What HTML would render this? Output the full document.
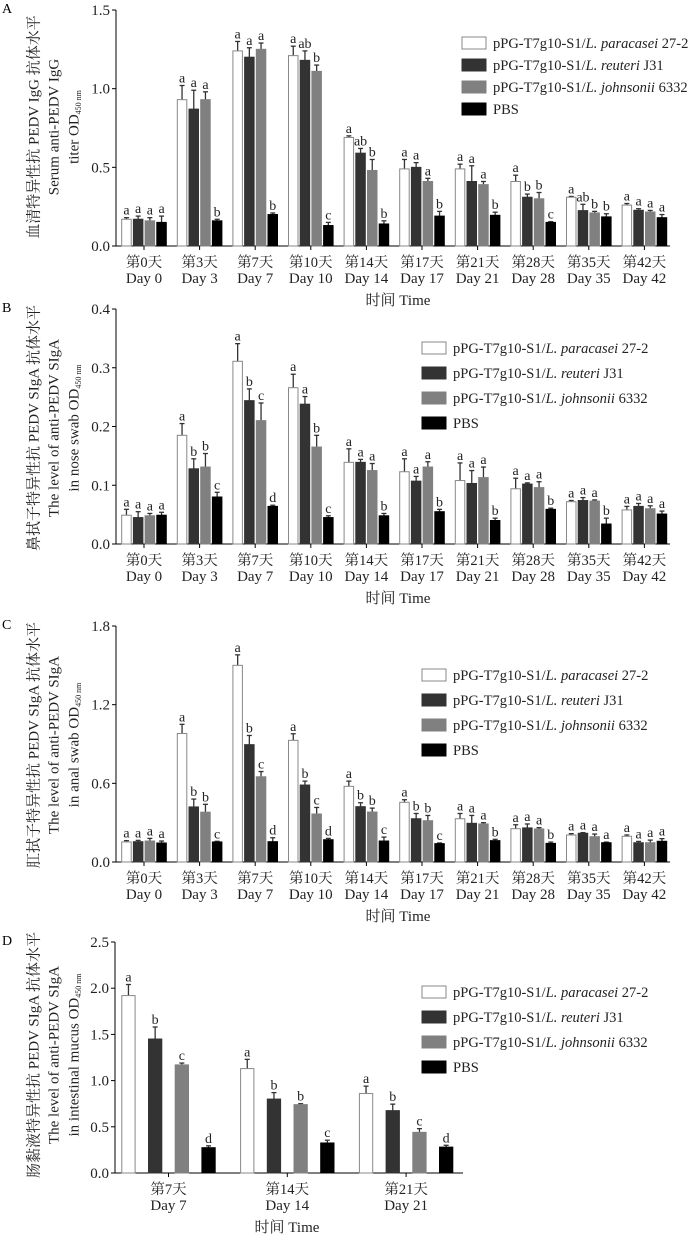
<!DOCTYPE html>
<html><head><meta charset="utf-8"><style>
html,body{margin:0;padding:0;background:#fff;}
svg{display:block;font-family:"Liberation Serif","Noto Serif CJK SC","Noto Sans CJK SC",serif;}
</style></head><body>
<svg id="fig" width="700" height="1236" viewBox="0 0 700 1236" xmlns="http://www.w3.org/2000/svg"></svg>
<script>
// ---- shared categories ----
const cats10Cn = ["第0天","第3天","第7天","第10天","第14天","第17天","第21天","第28天","第35天","第42天"];
const cats10En = ["Day 0","Day 3","Day 7","Day 10","Day 14","Day 17","Day 21","Day 28","Day 35","Day 42"];
const catsDCn = ["第7天","第14天","第21天"];
const catsDEn = ["Day 7","Day 14","Day 21"];
const seriesNames = ["pPG-T7g10-S1/L. paracasei 27-2","pPG-T7g10-S1/L. reuteri J31","pPG-T7g10-S1/L. johnsonii 6332","PBS"];

// ---- Panel A: serum IgG ----
const aParacasei = [0.17,0.93,1.24,1.21,0.69,0.49,0.49,0.41,0.31,0.26];
const aReuteri   = [0.17,0.87,1.20,1.18,0.59,0.50,0.41,0.31,0.225,0.227];
const aJohnsonii = [0.16,0.93,1.25,1.11,0.48,0.41,0.39,0.30,0.21,0.216];
const aPBS       = [0.15,0.16,0.20,0.13,0.14,0.19,0.195,0.15,0.185,0.18];
const aErrP = [0.01,0.09,0.06,0.06,0.01,0.06,0.03,0.04,0.005,0.01];
const aErrR = [0.02,0.12,0.06,0.06,0.03,0.03,0.10,0.02,0.04,0.01];
const aErrJ = [0.02,0.05,0.04,0.04,0.07,0.02,0.02,0.04,0.01,0.01];
const aErrB = [0.04,0.01,0.01,0.02,0.02,0.03,0.02,0.005,0.02,0.02];
const aLetP = ["a","a","a","a","a","a","a","a","a","a"];
const aLetR = ["a","a","a","ab","ab","a","a","b","ab","a"];
const aLetJ = ["a","a","a","b","b","a","a","b","b","a"];
const aLetB = ["a","b","b","c","b","b","b","c","b","a"];
const aTicks = ["0.0","0.5","1.0","1.5"];

// ---- Panel B: nose swab SIgA ----
const bParacasei = [0.049,0.185,0.311,0.266,0.139,0.123,0.108,0.094,0.072,0.058];
const bReuteri   = [0.045,0.128,0.244,0.238,0.139,0.107,0.103,0.102,0.074,0.064];
const bJohnsonii = [0.048,0.131,0.210,0.165,0.125,0.131,0.113,0.096,0.073,0.060];
const bPBS       = [0.049,0.080,0.064,0.045,0.048,0.055,0.040,0.059,0.034,0.051];
const bErrP = [0.01,0.02,0.03,0.023,0.023,0.022,0.03,0.018,0.002,0.006];
const bErrR = [0.01,0.017,0.02,0.013,0.005,0.008,0.022,0.002,0.005,0.005];
const bErrJ = [0.004,0.023,0.03,0.02,0.012,0.009,0.018,0.01,0.002,0.005];
const bErrB = [0.005,0.008,0.002,0.003,0.004,0.004,0.004,0.002,0.01,0.005];
const bLetP = ["a","a","a","a","a","a","a","a","a","a"];
const bLetR = ["a","b","b","a","a","a","a","a","a","a"];
const bLetJ = ["a","b","c","b","a","a","a","a","a","a"];
const bLetB = ["a","c","d","c","b","b","b","b","b","a"];
const bTicks = ["0.0","0.1","0.2","0.3","0.4"];

// ---- Panel C: anal swab SIgA ----
const cParacasei = [0.153,0.98,1.50,0.928,0.577,0.455,0.33,0.254,0.206,0.196];
const cReuteri   = [0.155,0.42,0.895,0.587,0.422,0.33,0.295,0.26,0.219,0.147];
const cJohnsonii = [0.16,0.38,0.65,0.366,0.381,0.315,0.29,0.252,0.193,0.147];
const cPBS       = [0.145,0.153,0.155,0.17,0.16,0.14,0.163,0.142,0.147,0.158];
const cErrP = [0.01,0.07,0.08,0.05,0.04,0.02,0.04,0.03,0.01,0.01];
const cErrR = [0.01,0.06,0.07,0.03,0.03,0.04,0.06,0.03,0.005,0.01];
const cErrJ = [0.02,0.06,0.04,0.05,0.03,0.04,0.01,0.01,0.02,0.02];
const cErrB = [0.015,0.005,0.03,0.01,0.03,0.005,0.01,0.01,0.005,0.02];
const cLetP = ["a","a","a","a","a","a","a","a","a","a"];
const cLetR = ["a","b","b","b","b","b","a","a","a","a"];
const cLetJ = ["a","b","c","c","b","b","a","a","a","a"];
const cLetB = ["a","c","d","d","c","c","b","b","a","a"];
const cTicks = ["0.0","0.6","1.2","1.8"];

// ---- Panel D: intestinal mucus SIgA ----
const dParacasei = [1.92,1.13,0.86];
const dReuteri   = [1.45,0.80,0.675];
const dJohnsonii = [1.17,0.74,0.44];
const dPBS       = [0.274,0.325,0.28];
const dErrP = [0.12,0.10,0.08];
const dErrR = [0.13,0.07,0.07];
const dErrJ = [0.02,0.01,0.04];
const dErrB = [0.02,0.03,0.02];
const dLetP = ["a","a","a"];
const dLetR = ["b","b","b"];
const dLetJ = ["c","b","c"];
const dLetB = ["d","c","d"];
const dTicks = ["0.0","0.5","1.0","1.5","2.0","2.5"];

const NS = "http://www.w3.org/2000/svg";
const svg = document.getElementById("fig");
const fills = ["#ffffff","#333333","#808080","#000000"];
const strokes = ["#888888","#333333","#808080","#000000"];

function mk(tag, attrs, parent) {
  const e = document.createElementNS(NS, tag);
  for (const k in attrs) e.setAttribute(k, attrs[k]);
  (parent || svg).appendChild(e);
  return e;
}

function drawPanel(cfg) {
  const g = mk("g", {});
  
  
  const yMax = parseFloat(cfg.ticks[cfg.ticks.length - 1]);
  const yScale = v => cfg.y0 - (v / yMax) * (cfg.y0 - cfg.yTop);
  const xCat = i => cfg.x0c + i * cfg.step;
  // panel letter
  const pl = mk("text", {x: 2, y: cfg.yTop + 3, "font-size": 14}, g);
  pl.textContent = cfg.letter;
  
  
  // axes
  const ya = mk("line", {x1: cfg.axX, y1: cfg.yTop, x2: cfg.axX, y2: cfg.y0, stroke: "#000", "stroke-width": 1}, g);
  
  
  const xa = mk("line", {x1: cfg.axX, y1: cfg.y0, x2: cfg.axEnd, y2: cfg.y0, stroke: "#000", "stroke-width": 1}, g);
  
  
  cfg.ticks.forEach(t => {
    const y = yScale(parseFloat(t));
    mk("line", {x1: cfg.axX - 4, y1: y, x2: cfg.axX, y2: y, stroke: "#000"}, g);
    const tl = mk("text", {x: cfg.axX - 6, y: y + 5, "font-size": 15, "text-anchor": "end", fill: "#222"}, g);
    tl.textContent = t;
    
    
  });
  cfg.cn.forEach((c, i) => {
    const x = xCat(i);
    mk("line", {x1: x, y1: cfg.y0, x2: x, y2: cfg.y0 + 4, stroke: "#000"}, g);
    const t1 = mk("text", {x: x, y: cfg.y0 + 21, "font-size": 14.5, "text-anchor": "middle", fill: "#222"}, g);
    t1.textContent = c;
    
    
    const t2 = mk("text", {x: x, y: cfg.y0 + 37, "font-size": 15, "text-anchor": "middle", fill: "#222"}, g);
    t2.textContent = cfg.en[i];
    
    
  });
  const xt = mk("text", {x: cfg.xTitleX, y: cfg.y0 + 59, "font-size": 15, "text-anchor": "middle", fill: "#222"}, g);
  xt.textContent = "时间 Time";
  
  
  // y-axis title (3 lines)
  const cy = cfg.yTitleC;
  const lines = cfg.yTitle;
  [35, 55, 75].forEach((lx, k) => {
    const t = mk("text", {x: lx, y: cy, "font-size": 15, "text-anchor": "middle", fill: "#222", transform: `rotate(-90 ${lx} ${cy})`, "dominant-baseline": "middle"}, g);
    
    
    if (k === 2) {
      t.appendChild(document.createTextNode(lines[2]));
      const s = mk("tspan", {"font-size": 8, dy: 4}, t);
      s.textContent = "450 nm";
    } else {
      t.textContent = lines[k];
    }
  });
  // bars
  const series = cfg.series;
  series.forEach((vals, s) => {
    vals.forEach((v, i) => {
      const cx = xCat(i) + (s - 1.5) * cfg.bStep;
      const x = cx - cfg.bw / 2;
      const y = yScale(v);
      const top = yScale(v + cfg.errs[s][i]);
      mk("line", {x1: cx, y1: y, x2: cx, y2: top, stroke: strokes[s] === "#888888" ? "#333" : "#333", "stroke-width": 1.3}, g);
      mk("line", {x1: cx - 2.5, y1: top, x2: cx + 2.5, y2: top, stroke: "#333", "stroke-width": 1.3}, g);
      const r = mk("rect", {x: x, y: y, width: cfg.bw, height: cfg.y0 - y, fill: fills[s], stroke: strokes[s], "stroke-width": 1}, g);
      
      
      const lt = mk("text", {x: cx, y: top - 3, "font-size": 14, "text-anchor": "middle", fill: "#222"}, g);
      lt.textContent = cfg.lets[s][i];
      
      
    });
  });
  // legend
  seriesNames.forEach((n, s) => {
    const ly = cfg.legY + s * cfg.legStep;
    const lg = mk("g", {}, g);
    
    
    mk("rect", {x: cfg.legX, y: ly - 6, width: 24, height: 12, fill: fills[s], stroke: strokes[s]}, lg);
    const t = mk("text", {x: cfg.legX + 31, y: ly + 5, "font-size": 14.5, fill: "#222"}, lg);
    if (s < 3) {
      const m = n.match(/^(pPG-T7g10-S1\/)(L\. \w+)( .*)$/);
      t.appendChild(document.createTextNode(m[1]));
      const it = mk("tspan", {"font-style": "italic"}, t);
      it.textContent = m[2];
      t.appendChild(document.createTextNode(m[3]));
    } else t.textContent = n;
  });
}

drawPanel({name: "panel-a-serum-igg", letter: "A", ticks: aTicks, y0: 246, yTop: 10, axX: 116, axEnd: 670,
  x0c: 144, step: 55.6, bw: 9.5, bStep: 11.7, cn: cats10Cn, en: cats10En, xTitleX: 398,
  yTitle: ["血清特异性抗 PEDV IgG 抗体水平", "Serum anti-PEDV IgG", "titer OD"], yTitleC: 127,
  series: [aParacasei, aReuteri, aJohnsonii, aPBS], errs: [aErrP, aErrR, aErrJ, aErrB], lets: [aLetP, aLetR, aLetJ, aLetB],
  legX: 462, legY: 43, legStep: 22});
drawPanel({name: "panel-b-nose-siga", letter: "B", ticks: bTicks, y0: 544, yTop: 309, axX: 116, axEnd: 670,
  x0c: 144, step: 55.6, bw: 9.5, bStep: 11.7, cn: cats10Cn, en: cats10En, xTitleX: 398,
  yTitle: ["鼻拭子特异性抗 PEDV SIgA 抗体水平", "The level of anti-PEDV SIgA", "in nose swab OD"], yTitleC: 428,
  series: [bParacasei, bReuteri, bJohnsonii, bPBS], errs: [bErrP, bErrR, bErrJ, bErrB], lets: [bLetP, bLetR, bLetJ, bLetB],
  legX: 422, legY: 348, legStep: 25});
drawPanel({name: "panel-c-anal-siga", letter: "C", ticks: cTicks, y0: 862, yTop: 626, axX: 116, axEnd: 670,
  x0c: 144, step: 55.6, bw: 9.5, bStep: 11.7, cn: cats10Cn, en: cats10En, xTitleX: 398,
  yTitle: ["肛拭子特异性抗 PEDV SIgA 抗体水平", "The level of anti-PEDV SIgA", "in anal swab OD"], yTitleC: 745,
  series: [cParacasei, cReuteri, cJohnsonii, cPBS], errs: [cErrP, cErrR, cErrJ, cErrB], lets: [cLetP, cLetR, cLetJ, cLetB],
  legX: 422, legY: 675, legStep: 25});
drawPanel({name: "panel-d-intestinal-siga", letter: "D", ticks: dTicks, y0: 1173, yTop: 942, axX: 115, axEnd: 463,
  x0c: 168.5, step: 118.8, bw: 13.3, bStep: 26.7, cn: catsDCn, en: catsDEn, xTitleX: 287,
  yTitle: ["肠黏液特异性抗 PEDV SIgA 抗体水平", "The level of anti-PEDV SIgA", "in intestinal mucus OD"], yTitleC: 1055,
  series: [dParacasei, dReuteri, dJohnsonii, dPBS], errs: [dErrP, dErrR, dErrJ, dErrB], lets: [dLetP, dLetR, dLetJ, dLetB],
  legX: 422, legY: 992, legStep: 25});
</script>
</body></html>
